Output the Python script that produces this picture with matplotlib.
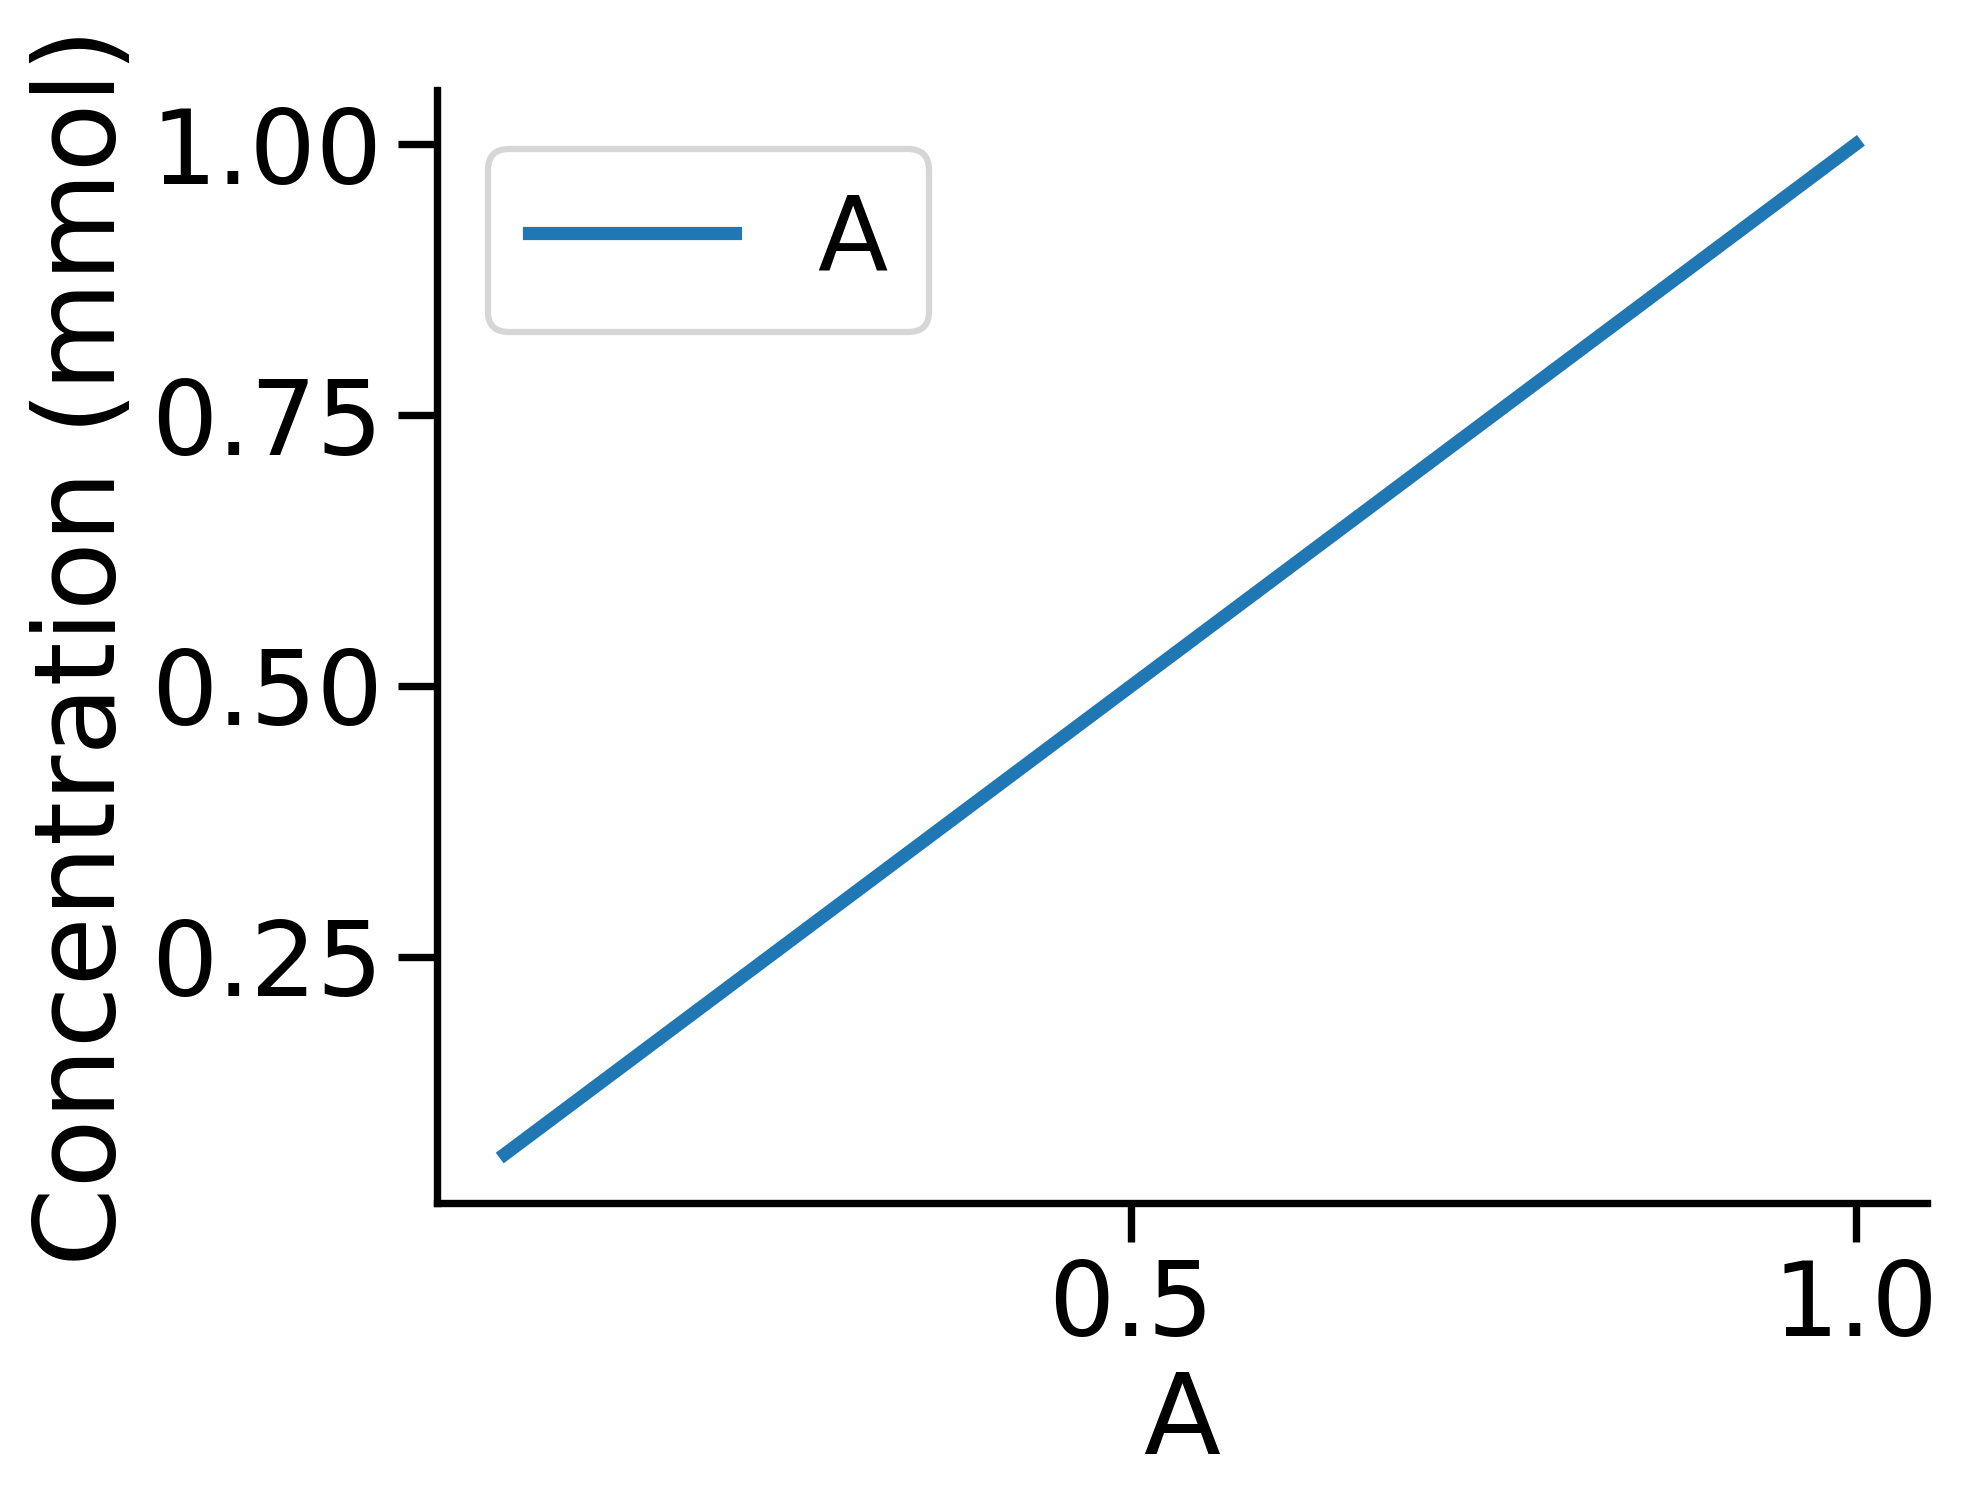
import matplotlib
matplotlib.use("Agg")
import matplotlib.pyplot as plt

x_values = [0.068, 1.0]
y_values = [0.068, 1.0]
series_label = "A"
x_label = "A"
y_label = "Concentration (mmol)"
x_ticks = [0.5, 1.0]
y_ticks = [0.25, 0.50, 0.75, 1.00]

dpi = 100
fig = plt.figure(figsize=(19.68, 15.11), dpi=dpi)
ax = fig.add_axes([0.222, 0.2038, 0.979 - 0.222, 0.9404 - 0.2038])

ax.plot(x_values, y_values, color="#1f77b4", linewidth=9.5, label=series_label)
ax.set_xlim(0.021, 1.049)
ax.set_ylim(0.0228, 1.050)
ax.set_xticks(x_ticks)
ax.set_xticklabels(["0.5", "1.0"])
ax.set_yticks(y_ticks)
ax.set_yticklabels(["0.25", "0.50", "0.75", "1.00"])

for side in ["top", "right"]:
    ax.spines[side].set_visible(False)
for side in ["left", "bottom"]:
    ax.spines[side].set_linewidth(5.3)
ax.tick_params(axis="both", length=28, width=5.3, labelsize=75, pad=11)

ax.set_xlabel(x_label, fontsize=81, labelpad=8)
ax.set_ylabel(y_label, fontsize=81, labelpad=9)

leg = ax.legend(loc="upper left", bbox_to_anchor=(0, 0.993), fontsize=74, fancybox=True)
leg.get_frame().set_linewidth(4.5)

fig.savefig("out.png", dpi=dpi, facecolor="white")
